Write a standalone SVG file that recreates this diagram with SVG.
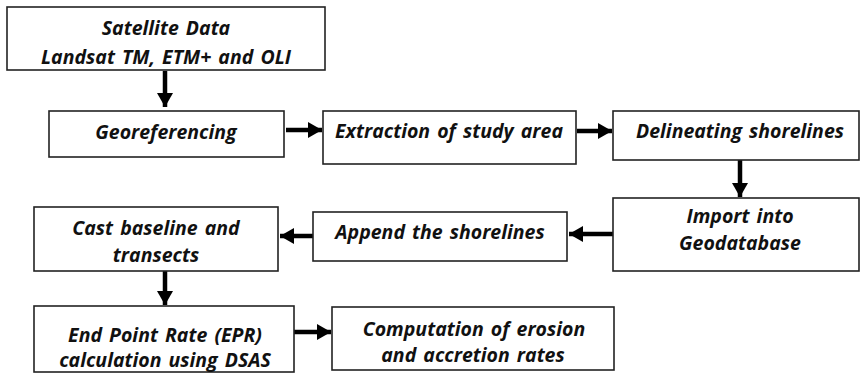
<svg xmlns="http://www.w3.org/2000/svg" width="860" height="373" viewBox="0 0 860 373">
<style>
.box{fill:#fff;stroke:#222;stroke-width:1.6}
.t{font-family:"Open Sans","DejaVu Sans",sans-serif;font-weight:bold;font-style:italic;font-size:19.5px;word-spacing:2px;fill:#111;text-anchor:middle}
.c{stroke:#000;stroke-width:4.5;fill:none}
</style>
<defs>
<marker id="ah" markerUnits="userSpaceOnUse" markerWidth="16" markerHeight="16" refX="14" refY="8" orient="auto">
<path d="M0,0 L14,8 L0,16 Z" fill="#000"/>
</marker>
</defs>
<rect width="860" height="373" fill="#fff"/>
<g id="connectors">
<line class="c" x1="165" y1="71" x2="165" y2="107" marker-end="url(#ah)"/>
<line class="c" x1="286" y1="130" x2="322" y2="130" marker-end="url(#ah)"/>
<line class="c" x1="577" y1="131" x2="612" y2="131" marker-end="url(#ah)"/>
<line class="c" x1="740" y1="160" x2="740" y2="197" marker-end="url(#ah)"/>
<line class="c" x1="613" y1="234" x2="569" y2="234" marker-end="url(#ah)"/>
<line class="c" x1="313" y1="236" x2="280" y2="236" marker-end="url(#ah)"/>
<line class="c" x1="165" y1="271" x2="165" y2="305" marker-end="url(#ah)"/>
<line class="c" x1="294" y1="332" x2="331" y2="332" marker-end="url(#ah)"/>
</g>
<g id="satellite">
<rect class="box" x="7" y="7" width="318" height="63"/>
<text class="t" x="166" y="35">Satellite Data</text>
<text class="t" x="166" y="64">Landsat TM, ETM+ and OLI</text>
</g>
<g id="georef">
<rect class="box" x="49" y="111" width="235" height="46"/>
<text class="t" x="166" y="139">Georeferencing</text>
</g>
<g id="extraction">
<rect class="box" x="323" y="111" width="253" height="53"/>
<text class="t" x="449" y="138">Extraction of study area</text>
</g>
<g id="delineating">
<rect class="box" x="613" y="111" width="246" height="49"/>
<text class="t" x="740" y="138">Delineating shorelines</text>
</g>
<g id="import">
<rect class="box" x="613" y="198" width="246" height="73"/>
<text class="t" x="740" y="223">Import into</text>
<text class="t" x="740" y="250">Geodatabase</text>
</g>
<g id="append">
<rect class="box" x="313" y="212" width="254" height="49"/>
<text class="t" x="440" y="239">Append the shorelines</text>
</g>
<g id="cast">
<rect class="box" x="34" y="207" width="244" height="64"/>
<text class="t" x="156" y="235">Cast baseline and</text>
<text class="t" x="156" y="262">transects</text>
</g>
<g id="epr">
<rect class="box" x="34" y="306" width="260" height="66"/>
<text class="t" x="165" y="342">End Point Rate (EPR)</text>
<text class="t" x="165" y="367">calculation using DSAS</text>
</g>
<g id="computation">
<rect class="box" x="332" y="307" width="282" height="63"/>
<text class="t" x="474" y="336">Computation of erosion</text>
<text class="t" x="473" y="362">and accretion rates</text>
</g>
</svg>
